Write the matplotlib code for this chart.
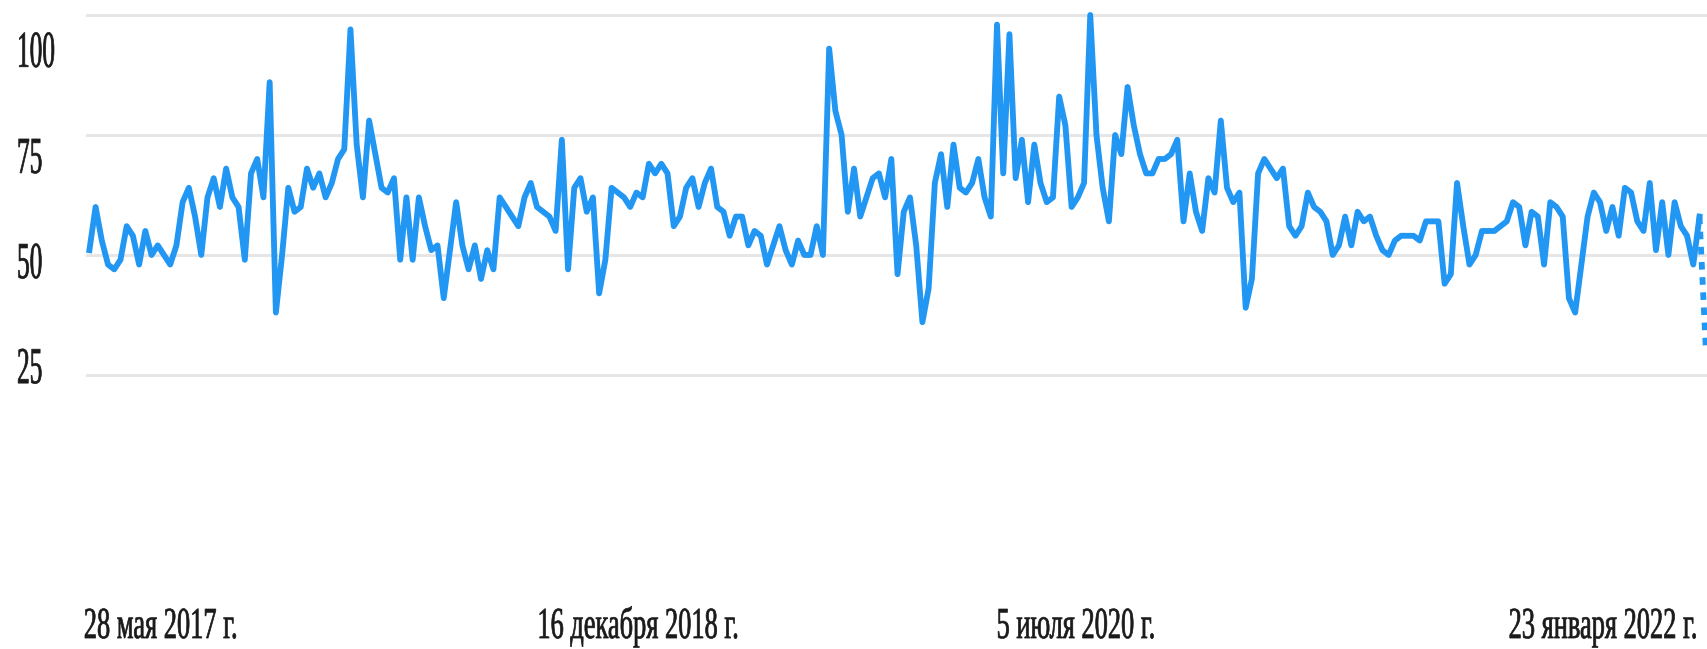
import matplotlib
matplotlib.use("Agg")
import matplotlib.pyplot as plt
import matplotlib.patheffects as pe
from matplotlib.transforms import Affine2D
import numpy as np

# weekly search interest from 28 May 2017, last week is partial (dotted)
interest = [
    51, 60, 53, 48, 47, 49, 56, 54, 48, 55, 50, 52, 50, 48, 52, 61, 64, 58, 50, 62,
    66, 60, 68, 62, 60, 49, 67, 70, 62, 86, 38, 50, 64, 59, 60, 68, 64, 67, 62, 65,
    70, 72, 97, 73, 62, 78, 71, 64, 63, 66, 49, 62, 49, 62, 56, 51, 52, 41, 51, 61,
    52, 47, 52, 45, 51, 47, 62, 60, 58, 56, 62, 65, 60, 59, 58, 55, 74, 47, 64, 66,
    59, 62, 42, 49, 64, 63, 62, 60, 63, 62, 69, 67, 69, 67, 56, 58, 64, 66, 60, 65,
    68, 60, 59, 54, 58, 58, 52, 55, 54, 48, 52, 56, 51, 48, 53, 50, 50, 56, 50, 93,
    80, 75, 59, 68, 58, 62, 66, 67, 62, 70, 46, 59, 62, 52, 36, 43, 65, 71, 60, 73,
    64, 63, 65, 70, 62, 58, 98, 67, 96, 66, 74, 61, 73, 65, 61, 62, 83, 77, 60, 62,
    65, 100, 75, 64, 57, 75, 71, 85, 77, 71, 67, 67, 70, 70, 71, 74, 57, 67, 59, 55,
    66, 63, 78, 64, 61, 63, 39, 45, 67, 70, 68, 66, 68, 56, 54, 56, 63, 60, 59, 57,
    50, 52, 58, 52, 59, 57, 58, 54, 51, 50, 53, 54, 54, 54, 53, 57, 57, 57, 44, 46,
    65, 56, 48, 50, 55, 55, 55, 56, 57, 61, 60, 52, 59, 58, 48, 61, 60, 58, 41, 38,
    48, 58, 63, 61, 55, 60, 54, 64, 63, 57, 55, 65, 51, 61, 50, 61, 56, 54, 48, 58,
    31,
]

x_labels = ["28 мая 2017 г.", "16 декабря 2018 г.", "5 июля 2020 г.", "23 января 2022 г."]
x_label_pos = [11.5, 88.3, 158.7, 243.5]  # week index under each label centre
y_grid = [25, 50, 75, 100]
y_labels = ["25", "50", "75", "100"]
y_label_pos = [23.3, 45.2, 67.1, 89.2]  # labels sit a bit below their grid lines

BLUE = "#2196f3"
GRID = "#e6e6e6"
TXT = "#1a1a1a"


class VStretch(pe.AbstractPathEffect):
    """stretch glyphs vertically around the baseline (the screenshot is squashed)"""

    def __init__(self, sy, lw=0.5):
        super().__init__()
        self.sy = sy
        self.lw = lw

    def draw_path(self, renderer, gc, tpath, affine, rgbFace=None):
        gc0 = renderer.new_gc()
        gc0.copy_properties(gc)
        gc0.set_linewidth(self.lw)
        gc0.set_foreground(rgbFace)
        renderer.draw_path(gc0, tpath, Affine2D().scale(1.0, self.sy) + affine, rgbFace)
        gc0.restore()


plt.rcParams["font.family"] = ["Liberation Serif", "DejaVu Serif"]

fig = plt.figure(figsize=(17.08, 6.49), dpi=100)
ax = fig.add_axes([0.0504, 0.3837, 0.9496, 0.6086])

x = np.arange(len(interest))
y = np.array(interest, dtype=float)

ax.plot(x[:-1], y[:-1], color=BLUE, lw=4.2, clip_on=False, zorder=3)
ax.plot(x[-2:], y[-2:], color=BLUE, lw=4.2, ls=(0, (1.3, 1.3)),
        dash_capstyle="butt", clip_on=False, zorder=3)

ax.set_xlim(-0.53, 260.37)
ax.set_ylim(19.79, 102.08)

# grid lines on the major ticks, labels on shifted minor ticks
ax.set_yticks(y_grid)
ax.set_yticklabels([])
ax.yaxis.grid(True, which="major", color=GRID, lw=2.2, zorder=0)
ax.set_yticks(y_label_pos, labels=y_labels, minor=True, ha="left", va="baseline",
              fontsize=18.2, color=TXT, path_effects=[VStretch(2.05)])
ax.tick_params(axis="y", which="both", length=0)
ax.tick_params(axis="y", which="minor", pad=49.7)

ax.set_xticks(x_label_pos, labels=x_labels, ha="center", va="baseline",
              fontsize=19, color=TXT, path_effects=[VStretch(1.68)])
ax.tick_params(axis="x", length=0, pad=171.4)

for s in ax.spines.values():
    s.set_visible(False)
ax.set_axisbelow(True)

fig.savefig("out.png", dpi=100)
